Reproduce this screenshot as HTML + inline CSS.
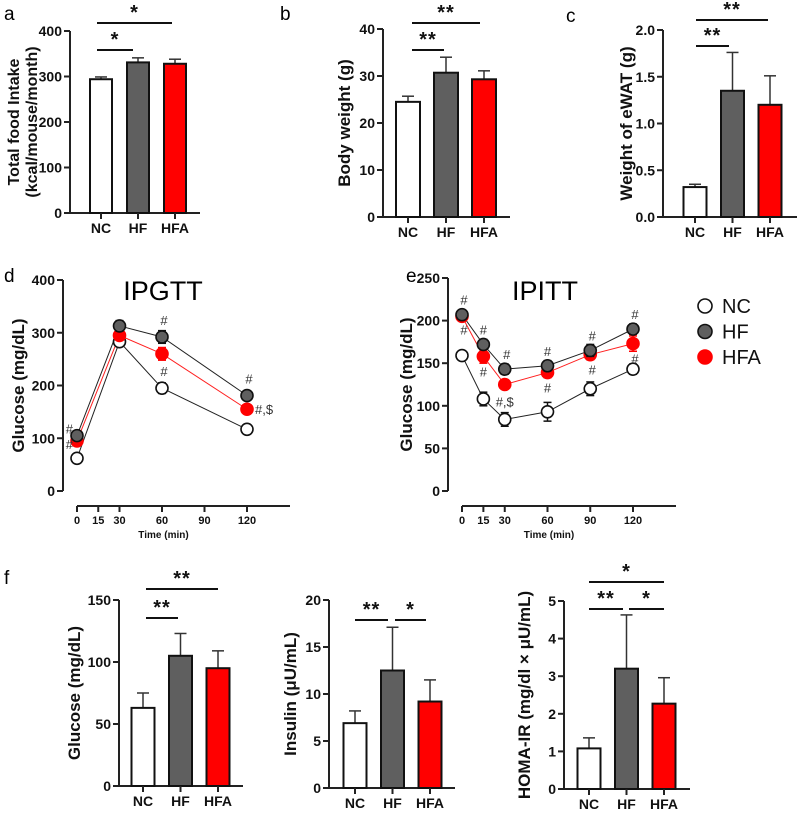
<!DOCTYPE html>
<html><head><meta charset="utf-8">
<style>
html,body{margin:0;padding:0;background:#fff;}
svg{display:block;font-family:"Liberation Sans",Arial,sans-serif;}
.t{font-weight:bold;font-size:14px;fill:#111;}
</style></head>
<body>
<svg id="fig" width="800" height="814" viewBox="0 0 800 814" xmlns="http://www.w3.org/2000/svg">
<text x="4" y="20" font-size="19">a</text>
<text x="280" y="20" font-size="19">b</text>
<text x="566" y="22" font-size="19">c</text>
<text x="4" y="282" font-size="19">d</text>
<text x="406" y="282" font-size="19">e</text>
<text x="4" y="584" font-size="19">f</text>
<text x="163" y="300" font-size="27" text-anchor="middle">IPGTT</text>
<text x="545" y="300" font-size="27" text-anchor="middle">IPITT</text>
</svg>
<script>
// ---- bar data ----
const groups = ["NC","HF","HFA"];
const foodVals = [294, 331, 328];
const foodErr = [5, 10, 10];
const bwVals = [24.5, 30.7, 29.3];
const bwErr = [1.2, 3.3, 1.8];
const ewatVals = [0.32, 1.35, 1.2];
const ewatErr = [0.03, 0.41, 0.31];
const gluVals = [63, 105, 95];
const gluErr = [12, 18, 14];
const insVals = [6.9, 12.5, 9.2];
const insErr = [1.3, 4.6, 2.3];
const homaVals = [1.08, 3.2, 2.27];
const homaErr = [0.28, 1.43, 0.69];
const foodTicks = [0,100,200,300,400];
const bwTicks = [0,10,20,30,40];
const ewatTicks = ["0.0","0.5","1.0","1.5","2.0"];
const gluTicks = [0,50,100,150];
const insTicks = [0,5,10,15,20];
const homaTicks = [0,1,2,3,4,5];
// ---- time course data ----
const gttTimes = [0,30,60,120];
const gttNC = [62,283,195,117];
const gttHF = [105,313,292,181];
const gttHFA = [95,295,260,155];
const gttErrNC = [4,8,10,9];
const gttErrHF = [5,10,12,8];
const gttErrHFA = [4,9,12,6];
const gttTicks = [0,100,200,300,400];
const gttXTicks = [0,15,30,60,90,120];
const ittTimes = [0,15,30,60,90,120];
const ittNC = [159,108,84,93,120,143];
const ittHF = [207,172,143,147,165,190];
const ittHFA = [205,158,125,139,160,173];
const ittErrNC = [5,8,8,11,8,6];
const ittErrHF = [5,6,6,6,7,6];
const ittErrHFA = [5,8,4,6,6,9];
const ittTicks = [0,50,100,150,200,250];
const ittXTicks = [0,15,30,60,90,120];

const NS="http://www.w3.org/2000/svg";
const svg=document.getElementById('fig');
function mk(tag,attrs,parent){const e=document.createElementNS(NS,tag);for(const k in attrs)e.setAttribute(k,attrs[k]);(parent||svg).appendChild(e);return e;}
function txt(x,y,s,attrs,parent){const e=mk('text',Object.assign({x:x,y:y},attrs),parent);e.textContent=s;return e;}
const fills=["#ffffff","#5f5f5f","#ff0000"];

function barChart(cfg,vals,errs,ticks){
  const g=mk('g',{});
  
  
  const max=cfg.max;
  const Y=v=>cfg.y0-(v/max)*(cfg.y0-cfg.yTop);
  const ya=mk('line',{x1:cfg.ax,y1:cfg.yTop,x2:cfg.ax,y2:cfg.y0,stroke:'#222','stroke-width':2},g);
  
  
  ticks.forEach((t,i)=>{
    const v=i*max/(ticks.length-1);
    mk('line',{x1:cfg.ax-6,x2:cfg.ax,y1:Y(v),y2:Y(v),stroke:'#222','stroke-width':2},g);
    const tl=txt(cfg.ax-8,Y(v)+5,String(t),{class:'t','text-anchor':'end'},g);
    
    
  });
  const xa=mk('line',{x1:cfg.ax-1,y1:cfg.y0,x2:cfg.xEnd,y2:cfg.y0,stroke:'#222','stroke-width':2},g);
  
  
  vals.forEach((v,i)=>{
    const cx=cfg.c0+i*cfg.step;
    const top=Y(v), et=Y(v+errs[i]);
    mk('line',{x1:cx,x2:cx,y1:top,y2:et,stroke:'#333','stroke-width':1.5},g);
    mk('line',{x1:cx-6,x2:cx+6,y1:et,y2:et,stroke:'#333','stroke-width':1.5},g);
    const b=mk('rect',{x:cx-cfg.bw/2,y:top,width:cfg.bw,height:cfg.y0-top,fill:fills[i],stroke:'#111','stroke-width':2},g);
    
    
    mk('line',{x1:cx,x2:cx,y1:cfg.y0,y2:cfg.y0+6,stroke:'#222','stroke-width':2},g);
    const xl=txt(cx,cfg.y0+20,groups[i],{class:'t','text-anchor':'middle'},g);
    
    
  });
  const yt=mk('text',{transform:`translate(${cfg.tx},${(cfg.y0+cfg.yTop)/2}) rotate(-90)`,'text-anchor':'middle','font-weight':'bold','font-size':cfg.tfs||17,fill:'#111'},g);
  
  
  cfg.title.forEach((s,i)=>{const ts=mk('tspan',{x:0,dy:i?18:0},yt);ts.textContent=s;});
  (cfg.sig||[]).forEach(s=>{
    mk('line',{x1:s[0],x2:s[1],y1:s[2],y2:s[2],stroke:'#111','stroke-width':2},g);
    const st=txt((s[0]+s[1])/2,s[2]-4,s[3],{'text-anchor':'middle','font-size':20,'font-weight':'bold',fill:'#111','letter-spacing':'1'},g);
    
    
  });
}

barChart({name:'food-intake-chart',ax:70,yTop:31,y0:213,xEnd:200,c0:101,step:37,bw:22,max:400,tx:19,tfs:16,title:['Total food Intake','(kcal/mouse/month)'],
  sig:[[97,133,50,'*'],[97,172,23,'*']]},foodVals,foodErr,foodTicks);
barChart({name:'body-weight-chart',ax:383,yTop:29,y0:217,xEnd:510,c0:408,step:38,bw:24,max:40,tx:350,title:['Body weight (g)'],
  sig:[[412,444,50,'**'],[412,480,23,'**']]},bwVals,bwErr,bwTicks);
barChart({name:'ewat-chart',ax:663,yTop:30,y0:217,xEnd:797,c0:695,step:37.5,bw:23,max:2,tx:632,title:['Weight of eWAT (g)'],
  sig:[[696,729,46,'**'],[696,768,20,'**']]},ewatVals,ewatErr,ewatTicks);
barChart({name:'fasting-glucose-chart',ax:119,yTop:600,y0:786,xEnd:243,c0:143,step:37.5,bw:23,max:150,tx:80,title:['Glucose (mg/dL)'],
  sig:[[146,178,618,'**'],[146,218,589,'**']]},gluVals,gluErr,gluTicks);
barChart({name:'insulin-chart',ax:329,yTop:600,y0:788,xEnd:455,c0:355,step:37.5,bw:23,max:20,tx:296,title:['Insulin (μU/mL)'],
  sig:[[355,388,620,'**'],[395,426,620,'*']]},insVals,insErr,insTicks);
barChart({name:'homa-ir-chart',ax:564,yTop:601,y0:789,xEnd:690,c0:589,step:37.5,bw:23,max:5,tx:530,title:['HOMA-IR (mg/dl × μU/mL)'],
  sig:[[589,623,609,'**'],[629,664,609,'*'],[589,664,582,'*']]},homaVals,homaErr,homaTicks);

function lineChart(cfg,times,series,errs,ticks,xticks,marks){
  const g=mk('g',{});
  
  
  const Y=v=>cfg.y0-(v/cfg.max)*(cfg.y0-cfg.yTop);
  const X=t=>cfg.x0+(t/120)*(cfg.x120-cfg.x0);
  mk('line',{x1:cfg.ax,y1:cfg.yTop,x2:cfg.ax,y2:cfg.y0,stroke:'#222','stroke-width':2},g);
  ticks.forEach((t,i)=>{
    const v=i*cfg.max/(ticks.length-1);
    mk('line',{x1:cfg.ax-6,x2:cfg.ax,y1:Y(v),y2:Y(v),stroke:'#222','stroke-width':2},g);
    const tl=txt(cfg.ax-8,Y(v)+5,String(t),{class:'t','text-anchor':'end'},g);
    
    
  });
  mk('line',{x1:cfg.x0,y1:cfg.xa,x2:cfg.xEnd,y2:cfg.xa,stroke:'#222','stroke-width':2},g);
  xticks.forEach(t=>{
    mk('line',{x1:X(t),x2:X(t),y1:cfg.xa,y2:cfg.xa+6,stroke:'#222','stroke-width':2},g);
    const xl=txt(X(t),cfg.xa+18,String(t),{'font-weight':'bold','font-size':11,'text-anchor':'middle',fill:'#111'},g);
    
    
  });
  const xt=txt((cfg.x0+cfg.xEnd)/2-20,cfg.xa+32,'Time (min)',{'font-weight':'bold','font-size':10,'text-anchor':'middle',fill:'#111'},g);
  
  
  const yt=txt(0,0,'Glucose (mg/dL)',{transform:`translate(${cfg.tx},${(cfg.y0+cfg.yTop)/2}) rotate(-90)`,'text-anchor':'middle','font-weight':'bold','font-size':17,fill:'#111'},g);
  
  
  const order=[0,2,1];
  const lc=['#222','#222','#ff2020'];
  const mf=['#ffffff','#5f5f5f','#ff0000'];
  const ms=['#111','#111','#ff0000'];
  [0,1,2].forEach(si=>{
    const vals=series[si];
    const pts=vals.map((v,i)=>X(times[i])+','+Y(v)).join(' ');
    const pl=mk('polyline',{points:pts,fill:'none',stroke:lc[si],'stroke-width':1},g);
    
    
  });
  order.forEach(si=>{
    series[si].forEach((v,i)=>{
      const x=X(times[i]),e=errs[si][i];
      const col=si==2?'#ff0000':'#111';
      mk('line',{x1:x,x2:x,y1:Y(v+e),y2:Y(v-e),stroke:col,'stroke-width':1.5},g);
      mk('line',{x1:x-4,x2:x+4,y1:Y(v+e),y2:Y(v+e),stroke:col,'stroke-width':1.5},g);
      mk('line',{x1:x-4,x2:x+4,y1:Y(v-e),y2:Y(v-e),stroke:col,'stroke-width':1.5},g);
      const c=mk('circle',{cx:x,cy:Y(v),r:6,fill:mf[si],stroke:ms[si],'stroke-width':1.6},g);
      
      
    });
  });
  marks.forEach(m=>{
    const s=m[0], i=m[1];
    const x=X(times[i])+m[3], y=Y(series[s][i])+m[4];
    const mt=txt(x,y,m[2],{'font-size':13,fill:'#333','text-anchor':m[5]||'middle'},g);
    
    
  });
}

lineChart({name:'ipgtt-chart',ax:63,yTop:280,y0:491,xa:506,x0:77,x120:247,xEnd:290,max:400,tx:24},
  gttTimes,[gttNC,gttHF,gttHFA],[gttErrNC,gttErrHF,gttErrHFA],gttTicks,gttXTicks,
  [[1,0,'#',-4,-2,'end'],[2,0,'#',-4,8,'end'],[1,2,'#',2,-12],[2,2,'#',2,22],[1,3,'#',2,-12],[2,3,'#,$',8,5,'start']]);
lineChart({name:'ipitt-chart',ax:448,yTop:278,y0:491,xa:506,x0:462,x120:633,xEnd:676,max:250,tx:412},
  ittTimes,[ittNC,ittHF,ittHFA],[ittErrNC,ittErrHF,ittErrHFA],ittTicks,ittXTicks,
  [[1,0,'#',2,-10],[2,0,'#',2,18],[1,1,'#',0,-10],[2,1,'#',0,20],[1,2,'#',2,-10],[2,2,'#,$',0,22],[1,3,'#',0,-10],[2,3,'#',0,20],[1,4,'#',2,-10],[2,4,'#',2,20],[1,5,'#',2,-10],[2,5,'#',2,20]]);

const leg=mk('g',{});


groups.forEach((gname,i)=>{
  const y=306+i*25.5;
  const c=mk('circle',{cx:705,cy:y,r:7,fill:fills[i],stroke:i==2?'#ff0000':'#111','stroke-width':1.6},leg);
  
  
  const t=txt(722,y+7,gname,{'font-size':20,fill:'#111'},leg);
  
  
});
</script>
</body></html>
